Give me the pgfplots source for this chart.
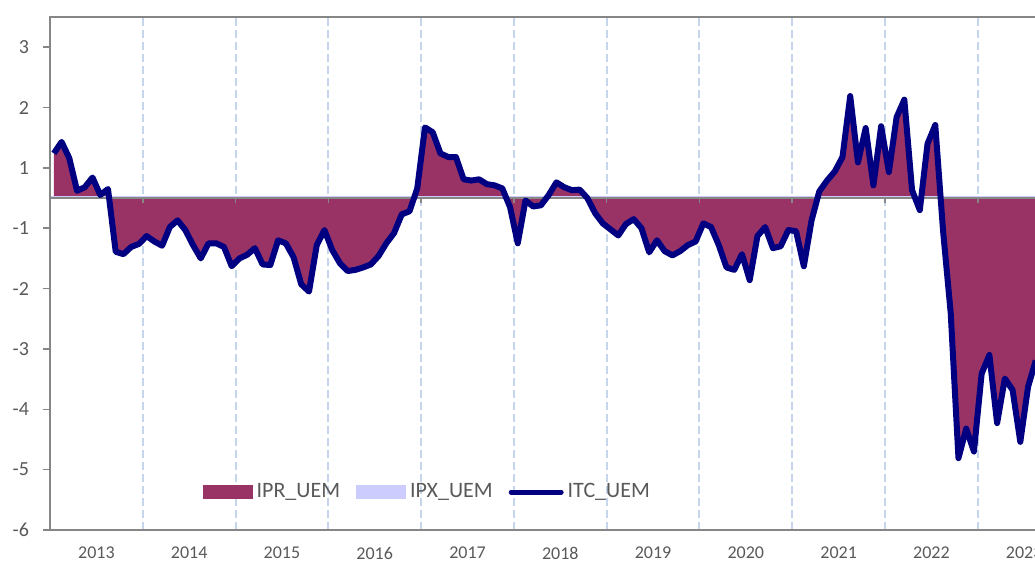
\documentclass[border=0pt]{standalone}
\usepackage{fontspec}
\setmainfont{Carlito}
\usepackage{pgfplots}
\pgfplotsset{compat=1.18}
\usepackage{pgfplotstable}

\definecolor{ipr}{HTML}{993366}
\definecolor{ipx}{HTML}{CCCCFF}
\definecolor{itc}{HTML}{000080}
\definecolor{axgray}{HTML}{868686}
\definecolor{txtgray}{HTML}{595959}
\definecolor{gridblue}{HTML}{C5D6EC}

\pgfplotsset{
    arealeg/.style={legend image code/.code={\fill[##1] (0pt,-3.5pt) rectangle (25pt,3.5pt);}},
    lineleg/.style={legend image code/.code={\draw[##1, line cap=round, line width=2.5pt] (0pt,0pt) -- (25pt,0pt);}},
}

% monthly values, m = 0 is Jan 2013
\pgfplotstableread{
m v
0 0.74
1 0.93
2 0.66
3 0.12
4 0.18
5 0.34
6 0.05
7 0.15
8 -0.89
9 -0.93
10 -0.81
11 -0.76
12 -0.63
13 -0.72
14 -0.79
15 -0.48
16 -0.37
17 -0.53
18 -0.78
19 -1.00
20 -0.75
21 -0.75
22 -0.81
23 -1.13
24 -1.00
25 -0.94
26 -0.83
27 -1.10
28 -1.11
29 -0.70
30 -0.75
31 -0.98
32 -1.43
33 -1.55
34 -0.78
35 -0.53
36 -0.86
37 -1.08
38 -1.21
39 -1.19
40 -1.15
41 -1.10
42 -0.96
43 -0.75
44 -0.58
45 -0.27
46 -0.22
47 0.16
48 1.17
49 1.09
50 0.74
51 0.68
52 0.68
53 0.31
54 0.29
55 0.31
56 0.23
57 0.21
58 0.16
59 -0.15
60 -0.75
61 -0.04
62 -0.14
63 -0.12
64 0.05
65 0.26
66 0.18
67 0.13
68 0.14
69 0.00
70 -0.25
71 -0.42
72 -0.52
73 -0.62
74 -0.43
75 -0.35
76 -0.50
77 -0.90
78 -0.70
79 -0.88
80 -0.95
81 -0.88
82 -0.78
83 -0.72
84 -0.42
85 -0.48
86 -0.78
87 -1.15
88 -1.19
89 -0.93
90 -1.36
91 -0.63
92 -0.48
93 -0.83
94 -0.80
95 -0.53
96 -0.55
97 -1.13
98 -0.37
99 0.11
100 0.29
101 0.44
102 0.68
103 1.69
104 0.59
105 1.16
106 0.21
107 1.19
108 0.43
109 1.34
110 1.63
111 0.13
112 -0.20
113 0.90
114 1.21
115 -0.53
116 -1.91
117 -4.31
118 -3.82
119 -4.20
120 -2.91
121 -2.60
122 -3.73
123 -2.99
124 -3.18
125 -4.04
126 -3.13
127 -2.69
}\itcdata

\begin{document}
\begin{tikzpicture}
\begin{axis}[
    scale only axis,
    width=492.5pt, height=256.5pt,
    xmin=-0.5, xmax=126.9,
    ymin=-5.5, ymax=3,
    clip mode=individual,
    axis line style={draw=none},
    xtick={5.5,17.5,...,125.5},
    xticklabels={2013,2014,2015,2016,2017,2018,2019,2020,2021,2022,2023},
    ytick={2.5,1.5,0.5,-0.5,-1.5,-2.5,-3.5,-4.5,-5.5},
    yticklabels={3,2,1,-1,-2,-3,-4,-5,-6},
    ytick pos=left,
    tick align=outside,
    major tick length=3.5pt,
    ytick style={axgray, line width=0.75pt},
    xtick style={draw=none},
    extra x ticks={11.5,23.5,...,119.5},
    extra x tick labels={},
    extra x tick style={grid=major, major tick length=0pt,
        major grid style={gridblue, line width=1pt, dash pattern=on 4pt off 2pt}},
    /pgf/number format/assume math mode=true,
    yticklabel style={font=\fontsize{10}{12}\selectfont, text=txtgray, xshift=-3.5pt},
    xticklabel style={font=\fontsize{9}{11}\selectfont, text=txtgray, yshift=-1.5pt},
    legend style={at={(0.384,0.074)}, anchor=center, draw=none, fill=none,
        font=\fontsize{11}{13}\selectfont, text=txtgray,
        /tikz/every even column/.append style={column sep=6pt}},
    legend columns=3,
]
\addplot[draw=none, fill=ipr, arealeg] table[x=m, y=v] {\itcdata} \closedcycle;
\addlegendentry{IPR\_UEM}
\addplot[draw=none, fill=ipx, arealeg] coordinates {(-0.5,0.035) (126.9,0.035)} \closedcycle;
\addlegendentry{IPX\_UEM}

\draw[axgray, line width=1pt] (axis cs:-0.5,0) -- (axis cs:126.9,0);
\pgfplotsinvokeforeach{11.5,23.5,35.5,47.5,59.5,71.5,83.5,95.5,107.5,119.5}{
    \draw[axgray, line width=0.75pt] (axis cs:#1,0) -- (axis cs:#1,-0.09);
}

\addplot[itc, line width=3pt, line join=round, lineleg] table[x=m, y=v] {\itcdata};
\addlegendentry{ITC\_UEM}

\draw[axgray, line width=1pt] (rel axis cs:1,1) -- (rel axis cs:0,1) -- (rel axis cs:0,0) -- (rel axis cs:1,0);
\coordinate (ll) at (rel axis cs:0,0);
\coordinate (ur) at (rel axis cs:1,1);
\end{axis}
\pgfresetboundingbox
\path ([shift={(-25pt,-16.5pt)}]ll) rectangle ([shift={(0pt,8.5pt)}]ur);
\end{tikzpicture}
\end{document}
